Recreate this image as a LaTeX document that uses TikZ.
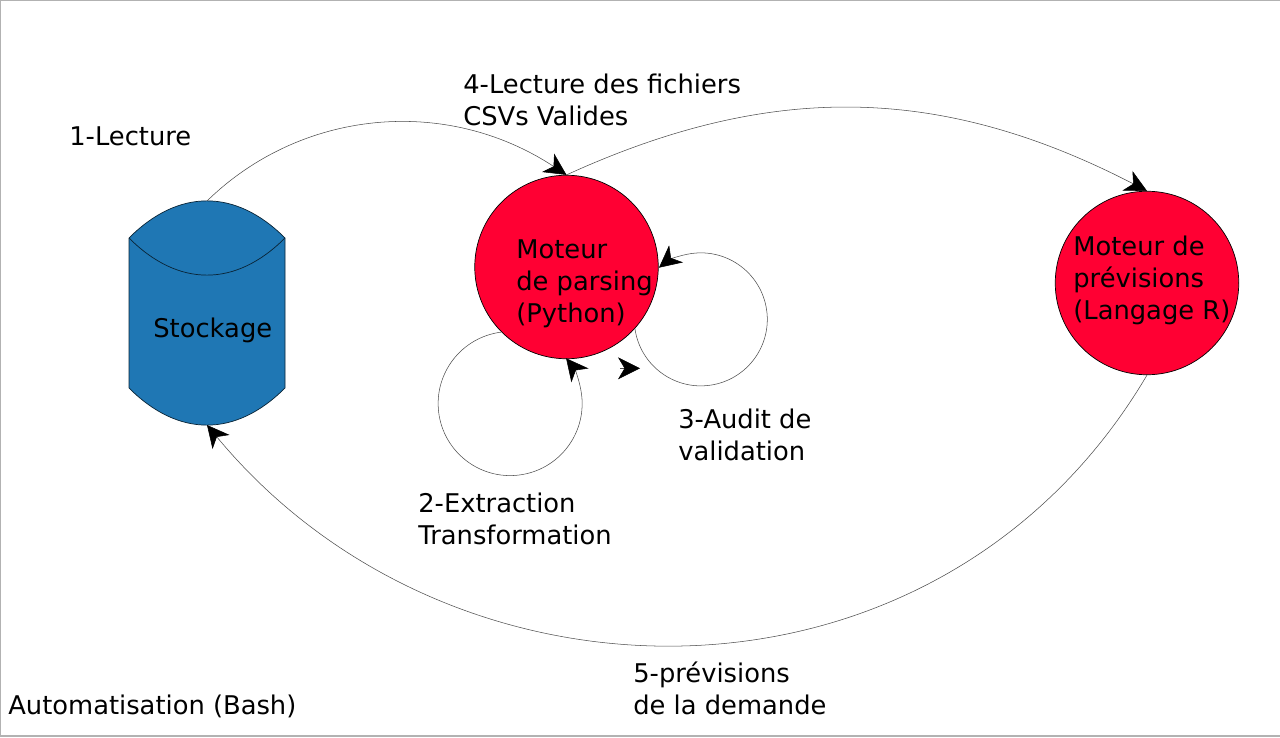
\documentclass[tikz,border=0pt]{standalone}
\usepackage{fontspec}
\setmainfont{DejaVu Sans}
\usetikzlibrary{arrows.meta}
\definecolor{stockblue}{HTML}{1F77B4}
\definecolor{motorred}{HTML}{FF0033}
\tikzset{
  flow/.style={black!70, line width=0.3pt, -{Stealth[length=0.44cm,width=0.44cm,inset=0.13cm,black]}},
  motor/.style={circle, draw=black, line width=0.4pt, fill=motorred, minimum size=3.67cm, inner sep=0pt},
  lbl/.style={anchor=west, align=left, inner sep=0pt, font=\fontsize{14.66}{18.2}\selectfont}
}
\begin{document}
\begin{tikzpicture}

\useasboundingbox (0,0) rectangle (25.6,14.74);
\draw[black!30, line width=0.6pt] (25.6,0.02)--(0.01,0.02)--(0.01,14.73)--(25.6,14.73);

% stockage
\fill[stockblue] (2.58,9.98) .. controls (3.57,10.97) and (4.71,10.97) .. (5.70,9.98) -- (5.70,6.98) .. controls (4.71,5.99) and (3.57,5.99) .. (2.58,6.98) -- cycle;
\draw[black!70!stockblue, line width=0.4pt] (2.58,9.98) .. controls (3.57,10.97) and (4.71,10.97) .. (5.70,9.98) -- (5.70,6.98) .. controls (4.71,5.99) and (3.57,5.99) .. (2.58,6.98) -- cycle;
\draw[black!70!stockblue, line width=0.4pt] (2.58,9.98) .. controls (3.57,8.99) and (4.71,8.99) .. (5.70,9.98);
\coordinate (stocktop) at (4.14,10.72);
\coordinate (stockbottom) at (4.14,6.24);

\node[motor] (parsing) at (11.33,9.40) {};
\node[motor] (previsions) at (22.94,9.08) {};

\node[lbl] (stocktext) at (3.06,8.14) {Stockage};
\node[lbl] (parsingtext) at (10.32,9.07) {Moteur\\de parsing\\(Python)};
\node[lbl] (previsionstext) at (21.46,9.13) {Moteur de\\prévisions\\(Langage R)};

\node[lbl] (step1) at (1.38,12.02) {1-Lecture};
\node[lbl] (step4) at (9.26,12.74) {4-Lecture des fichiers\\CSVs Valides};
\node[lbl] (step3) at (13.56,6.04) {3-Audit de\\validation};
\node[lbl] (step2) at (8.36,4.36) {2-Extraction\\Transformation};
\node[lbl] (step5) at (12.66,0.98) {5-prévisions\\de la demande};
\node[lbl] (bash) at (0.16,0.62) {Automatisation (Bash)};

\draw[flow] (stocktop) .. controls (6.0,12.54) and (8.9,12.84) .. (parsing.north);
\draw[flow] (parsing.north) .. controls (15.4,13.1) and (18.8,13.06) .. (previsions.north);
\draw[flow] (previsions.south) .. controls (18.8,0.22) and (9.1,0.24) .. (stockbottom);

\draw[flow] (parsing.225) arc[start angle=97, end angle=399, radius=1.44cm];
\draw[flow] (parsing.-42) arc[start angle=188, end angle=489, radius=1.33cm];

% arrow head on its own
\coordinate (straytail) at (12.40,7.374);
\coordinate (straytip) at (12.80,7.374);
\draw[flow] (straytail) -- (straytip);

\end{tikzpicture}
\end{document}
